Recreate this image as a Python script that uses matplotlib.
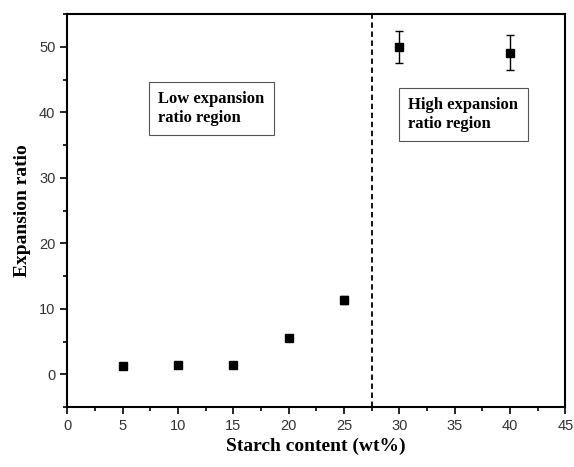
import matplotlib
matplotlib.use("Agg")
import matplotlib.pyplot as plt
from matplotlib.ticker import MultipleLocator

# data
starch = [5, 10, 15, 20, 25, 30, 40]
ratio = [1.3, 1.4, 1.5, 5.5, 11.3, 50.0, 49.1]
err = [0.2, 0.2, 0.2, 0.3, 0.6, 2.4, 2.7]
boundary = 27.5

fig = plt.figure(figsize=(5.74, 4.67), dpi=100)
ax = fig.add_axes((0.117, 0.128, 0.868, 0.842))

ax.errorbar(starch, ratio, yerr=err, fmt='s', color='black', ms=6,
            ecolor='black', elinewidth=1, capsize=3, capthick=1)
ax.axvline(boundary, color='black', linestyle=(0, (3, 2)), lw=1.3)

ax.set_xlim(0, 45)
ax.set_ylim(-5, 55)
ax.xaxis.set_major_locator(MultipleLocator(5))
ax.xaxis.set_minor_locator(MultipleLocator(2.5))
ax.yaxis.set_major_locator(MultipleLocator(10))
ax.yaxis.set_minor_locator(MultipleLocator(5))
ax.tick_params(which='both', direction='out', top=False, right=False,
               labelsize=10.5, labelcolor='#333333')
ax.tick_params(which='major', length=5, width=1.2)
ax.tick_params(which='minor', length=3, width=1.2)
for lab in ax.get_xticklabels() + ax.get_yticklabels():
    lab.set_family('Liberation Sans')
for sp in ax.spines.values():
    sp.set_linewidth(1.5)

ax.set_xlabel('Starch content (wt%)', family='Liberation Serif',
              fontweight='bold', fontsize=14, labelpad=3)
ax.set_ylabel('Expansion ratio', family='Liberation Serif',
              fontweight='bold', fontsize=14, labelpad=6)

box = dict(boxstyle='square,pad=0.55', fc='white', ec='#555555', lw=0.8)
ax.text(0.183, 0.76, 'Low expansion\nratio region', transform=ax.transAxes,
        family='Liberation Serif', fontweight='bold', fontsize=12,
        va='center', ha='left', bbox=box, linespacing=1.25)
ax.text(0.685, 0.745, 'High expansion\nratio region', transform=ax.transAxes,
        family='Liberation Serif', fontweight='bold', fontsize=12,
        va='center', ha='left', bbox=box, linespacing=1.25)

fig.savefig('out.png', dpi=100)
